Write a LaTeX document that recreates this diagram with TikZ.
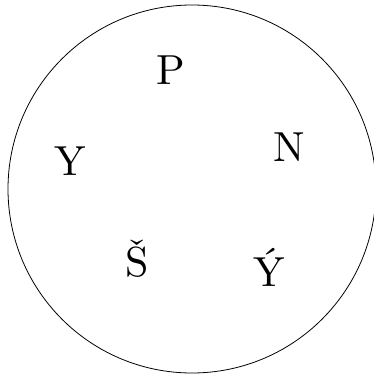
\documentclass[tikz,border=0pt]{standalone}
\usepackage{fontspec}
\usepackage{tikz}

\tikzset{letter/.style={anchor=base, inner sep=0pt, scale=4.2, font=\fontsize{10}{12}\selectfont}}

\begin{document}
\begin{tikzpicture}[x=1pt,y=1pt]
\useasboundingbox (0,0) rectangle (374,376);
\draw[black, thick] (192,187) circle (184);

\node[letter] (p) at (171,291) {P};
\node[letter] (n) at (289.5,214) {N};
\node[letter] (ya) at (269,89) {Ý};
\node[letter] (s) at (137.5,99) {Š};
\node[letter] (y) at (70.5,200) {Y};
\end{tikzpicture}
\end{document}
